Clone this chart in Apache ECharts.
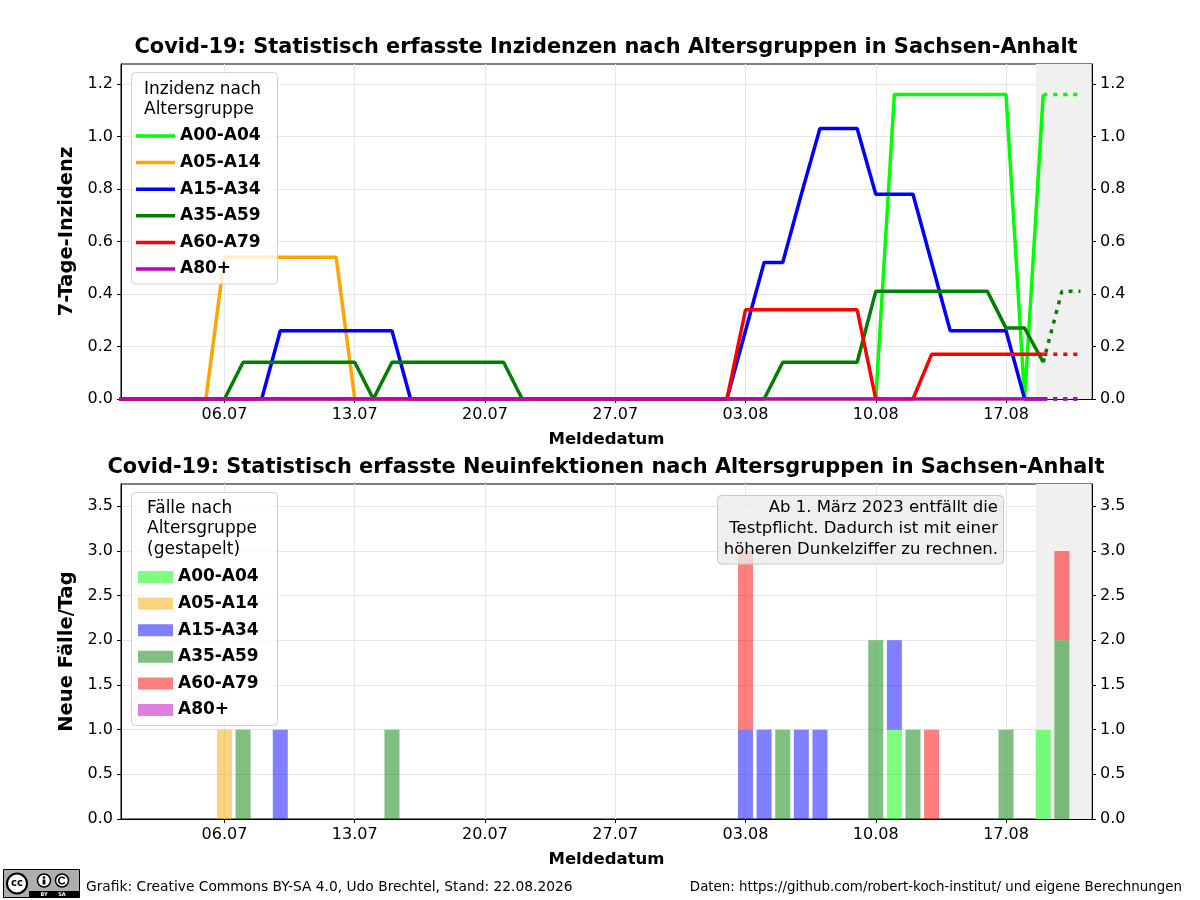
<!DOCTYPE html>
<html>
<head>
<meta charset="utf-8">
<script src="https://cdn.jsdelivr.net/npm/echarts@6/dist/echarts.min.js"></script>
<style>
html,body{margin:0;padding:0;background:#fff}
#main{width:1200px;height:900px}
</style>
</head>
<body>
<div id="main"></div>
<script>
// Tage (Meldedatum), Index 0 = 30.06
var days = ['30.06',
  '01.07','02.07','03.07','04.07','05.07','06.07','07.07','08.07','09.07','10.07',
  '11.07','12.07','13.07','14.07','15.07','16.07','17.07','18.07','19.07','20.07',
  '21.07','22.07','23.07','24.07','25.07','26.07','27.07','28.07','29.07','30.07','31.07',
  '01.08','02.08','03.08','04.08','05.08','06.08','07.08','08.08','09.08','10.08',
  '11.08','12.08','13.08','14.08','15.08','16.08','17.08','18.08','19.08','20.08','21.08'];
var tickDays = ['06.07','13.07','20.07','27.07','03.08','10.08','17.08'];
var groups = ['A00-A04','A05-A14','A15-A34','A35-A59','A60-A79','A80+'];

// 7-Tage-Inzidenz 30.06 .. 19.08
var inzA00 = [0,0,0,0,0,0,0, 0,0,0,0,0,0,0, 0,0,0,0,0,0,0, 0,0,0,0,0,0,0, 0,0,0,0,0,0,0, 0,0,0,0,0,0,0,
  1.16,1.16,1.16,1.16,1.16,1.16,1.16, 0,1.16];
var inzA05 = [0,0,0,0,0,0,0.54, 0.54,0.54,0.54,0.54,0.54,0.54,0, 0,0,0,0,0,0,0, 0,0,0,0,0,0,0, 0,0,0,0,0,0,0, 0,0,0,0,0,0,0,
  0,0,0,0,0,0,0, 0,0];
var inzA15 = [0,0,0,0,0,0,0, 0,0,0.26,0.26,0.26,0.26,0.26, 0.26,0.26,0,0,0,0,0, 0,0,0,0,0,0,0, 0,0,0,0,0,0,0.26,
  0.52,0.52,0.78,1.03,1.03,1.03,0.78, 0.78,0.78,0.52,0.26,0.26,0.26,0.26, 0,0];
var inzA35 = [0,0,0,0,0,0,0, 0.14,0.14,0.14,0.14,0.14,0.14,0.14, 0,0.14,0.14,0.14,0.14,0.14,0.14, 0.14,0,0,0,0,0,0, 0,0,0,0,0,0,0,
  0,0.14,0.14,0.14,0.14,0.14,0.41, 0.41,0.41,0.41,0.41,0.41,0.41,0.27, 0.27,0.14];
var inzA60 = [0,0,0,0,0,0,0, 0,0,0,0,0,0,0, 0,0,0,0,0,0,0, 0,0,0,0,0,0,0, 0,0,0,0,0,0,0.34,
  0.34,0.34,0.34,0.34,0.34,0.34,0, 0,0,0.17,0.17,0.17,0.17,0.17, 0.17,0.17];
var inzA80 = [0,0,0,0,0,0,0, 0,0,0,0,0,0,0, 0,0,0,0,0,0,0, 0,0,0,0,0,0,0, 0,0,0,0,0,0,0, 0,0,0,0,0,0,0,
  0,0,0,0,0,0,0, 0,0];

// Prognose (gepunktet) 19.08 .. 21.08
var progDays = ['19.08','20.08','21.08'];
var progA00 = [1.16,1.16,1.16];
var progA05 = [0,0,0];
var progA15 = [0,0,0];
var progA35 = [0.14,0.41,0.41];
var progA60 = [0.17,0.17,0.17];
var progA80 = [0,0,0];

// Neue Faelle pro Tag
var barDays = ['06.07','07.07','09.07','15.07','03.08','04.08','05.08','06.08','07.08','10.08','11.08','12.08','13.08','17.08','19.08','20.08'];
var fA00 = [0,0,0,0,0,0,0,0,0,0,1,0,0,0,1,0];
var fA05 = [1,0,0,0,0,0,0,0,0,0,0,0,0,0,0,0];
var fA15 = [0,0,1,0,1,1,0,1,1,0,1,0,0,0,0,0];
var fA35 = [0,1,0,1,0,0,1,0,0,2,0,1,0,1,0,2];
var fA60 = [0,0,0,0,2,0,0,0,0,0,0,0,1,0,0,1];
var fA80 = [0,0,0,0,0,0,0,0,0,0,0,0,0,0,0,0];

var inzTicks = [0,0.2,0.4,0.6,0.8,1.0,1.2];
var faelleTicks = [0,0.5,1.0,1.5,2.0,2.5,3.0,3.5];

var inz = [inzA00,inzA05,inzA15,inzA35,inzA60,inzA80];
var prog = [progA00,progA05,progA15,progA35,progA60,progA80];
var faelle = [fA00,fA05,fA15,fA35,fA60,fA80];

var lineColors = ['#00ff00','#ffa500','#0000ff','#008000','#ff0000','#bf00bf'];
var barColors = ['rgba(0,255,0,0.5)','rgba(255,165,0,0.5)','rgba(0,0,255,0.5)','rgba(0,128,0,0.5)','rgba(255,0,0,0.5)','rgba(191,0,191,0.5)'];

var FONT = 'DejaVu Sans';
var X_MIN = 0.44, X_MAX = 52.62, SHADE_FROM = 49.6;
var tickIdx = tickDays.map(function(d){ return days.indexOf(d); });

var myChart = echarts.init(document.getElementById('main'));

function xAx(gi) {
    return {
        type: 'value', gridIndex: gi, min: X_MIN, max: X_MAX,
        name: 'Meldedatum', nameLocation: 'middle', nameGap: 32,
        nameTextStyle: {fontFamily: FONT, fontWeight: 'bold', fontSize: 16.5, color: '#000'},
        axisLine: {show: true, onZero: false, lineStyle: {color: '#000'}},
        axisTick: {show: true, length: 4, customValues: tickIdx, lineStyle: {color: '#000'}},
        axisLabel: {customValues: tickIdx, margin: 8, fontFamily: FONT, fontSize: 16, color: '#000',
            formatter: function(v){ return days[Math.round(v)]; }},
        splitLine: {show: true, lineStyle: {color: '#e6e6e6'}}
    };
}
function yAx(gi, pos, max, ticks, name) {
    return {
        type: 'value', gridIndex: gi, position: pos, min: 0, max: max,
        name: name, nameLocation: 'middle', nameGap: 40,
        nameTextStyle: {fontFamily: FONT, fontWeight: 'bold', fontSize: 19.5, color: '#000'},
        axisLine: {show: true, lineStyle: {color: '#000'}},
        axisTick: {show: true, length: 4, customValues: ticks, lineStyle: {color: '#000'}},
        axisLabel: {customValues: ticks, margin: 8, fontFamily: FONT, fontSize: 16, color: '#000',
            formatter: function(v){ return v.toFixed(1); }},
        splitLine: {show: pos === 'left', lineStyle: {color: '#e6e6e6'}}
    };
}

var series = [];
groups.forEach(function(g, k) {
    var s = {
        name: g, type: 'line', xAxisIndex: 0, yAxisIndex: 0,
        data: inz[k].map(function(v, i){ return [i, v]; }),
        showSymbol: false, symbol: 'none', color: lineColors[k],
        lineStyle: {width: 3.5, color: lineColors[k]}, z: 3
    };
    if (k === 0) {
        s.markArea = {silent: true, itemStyle: {color: '#f0f0f0'},
            data: [[{xAxis: SHADE_FROM}, {xAxis: X_MAX - 0.03}]]};
    }
    series.push(s);
});
groups.forEach(function(g, k) {
    series.push({
        name: g + ' Prognose', type: 'line', xAxisIndex: 0, yAxisIndex: 0,
        data: prog[k].map(function(v, j){ return [days.indexOf(progDays[j]), v]; }),
        showSymbol: false, symbol: 'none', color: lineColors[k],
        lineStyle: {width: 3.5, color: lineColors[k], type: [4, 6]}, z: 3
    });
});
// Balken: Spalte 0 = Faelle, Spalte 1 = Tag, damit auf den Faellen gestapelt wird
groups.forEach(function(g, k) {
    var s = {
        name: 'Fälle ' + g, type: 'bar', stack: 'faelle', xAxisIndex: 1, yAxisIndex: 2,
        encode: {x: 1, y: 0},
        data: barDays.map(function(d, i){ return [faelle[k][i], days.indexOf(d)]; }),
        barWidth: 15, color: barColors[k], itemStyle: {color: barColors[k]}
    };
    if (k === 0) {
        s.markArea = {silent: true, itemStyle: {color: '#f0f0f0'},
            data: [[{xAxis: SHADE_FROM}, {xAxis: X_MAX - 0.03}]]};
    }
    series.push(s);
});

option = {
    animation: false,
    backgroundColor: '#fff',
    grid: [
        {left: 121, right: 108, top: 64, height: 335, show: true, borderColor: '#000', borderWidth: 1, backgroundColor: 'transparent'},
        {left: 121, right: 108, top: 484, height: 335, show: true, borderColor: '#000', borderWidth: 1, backgroundColor: 'transparent'}
    ],
    xAxis: [xAx(0), xAx(1)],
    yAxis: [
        yAx(0, 'left', 1.276, inzTicks, '7-Tage-Inzidenz'),
        yAx(0, 'right', 1.276, inzTicks, ''),
        yAx(1, 'left', 3.75, faelleTicks, 'Neue Fälle/Tag'),
        yAx(1, 'right', 3.75, faelleTicks, '')
    ],
    legend: [
        {
            data: groups, orient: 'vertical', left: 136, top: 126, padding: 0,
            itemGap: 6.6, itemWidth: 39, itemHeight: 3.5, itemTextGap: 12, icon: 'rect',
            selectedMode: false, z: 60,
            textStyle: {fontFamily: FONT, fontSize: 17, fontWeight: 'bold', color: '#000', lineHeight: 20}
        },
        {
            data: groups.map(function(g){ return 'Fälle ' + g; }),
            formatter: function(n){ return n.replace('Fälle ', ''); },
            orient: 'vertical', left: 138, top: 567, padding: 0,
            itemGap: 6.6, itemWidth: 35, itemHeight: 12, itemTextGap: 14, icon: 'rect',
            selectedMode: false, z: 60,
            textStyle: {fontFamily: FONT, fontSize: 17, fontWeight: 'bold', color: '#000', lineHeight: 20}
        }
    ],
    graphic: [
        // Titel
        {type: 'text', z: 70, style: {text: 'Covid-19: Statistisch erfasste Inzidenzen nach Altersgruppen in Sachsen-Anhalt',
            x: 606, y: 48, align: 'center', verticalAlign: 'middle',
            fontFamily: FONT, fontSize: 20.9, fontWeight: 'bold', fill: '#000'}},
        {type: 'text', z: 70, style: {text: 'Covid-19: Statistisch erfasste Neuinfektionen nach Altersgruppen in Sachsen-Anhalt',
            x: 606, y: 468, align: 'center', verticalAlign: 'middle',
            fontFamily: FONT, fontSize: 20.9, fontWeight: 'bold', fill: '#000'}},
        // Legendenrahmen
        {type: 'rect', z: 50, shape: {x: 131.5, y: 72.5, width: 146, height: 211.5, r: 4},
            style: {fill: 'rgba(255,255,255,0.8)', stroke: '#d0d0d0', lineWidth: 1}},
        {type: 'text', z: 60, style: {text: 'Inzidenz nach\nAltersgruppe', x: 144, y: 100, verticalAlign: 'middle',
            lineHeight: 20, fontFamily: FONT, fontSize: 17, fill: '#000'}},
        {type: 'rect', z: 50, shape: {x: 131.5, y: 492.5, width: 146, height: 233, r: 4},
            style: {fill: 'rgba(255,255,255,0.8)', stroke: '#d0d0d0', lineWidth: 1}},
        {type: 'text', z: 60, style: {text: 'Fälle nach\nAltersgruppe\n(gestapelt)', x: 147, y: 529, verticalAlign: 'middle',
            lineHeight: 20.5, fontFamily: FONT, fontSize: 17, fill: '#000'}},
        // Hinweis
        {type: 'rect', z: 50, shape: {x: 717.5, y: 495.5, width: 286, height: 68.5, r: 4},
            style: {fill: 'rgba(235,235,235,0.8)', stroke: '#c8c8c8', lineWidth: 1}},
        {type: 'text', z: 60, style: {text: 'Ab 1. März 2023 entfällt die\nTestpflicht. Dadurch ist mit einer\nhöheren Dunkelziffer zu rechnen.',
            x: 998, y: 529, align: 'right', verticalAlign: 'middle', lineHeight: 21,
            fontFamily: FONT, fontSize: 16.5, fill: '#000'}},
        // Fusszeile
        {type: 'text', z: 60, style: {text: 'Grafik: Creative Commons BY-SA 4.0, Udo Brechtel, Stand: 22.08.2026',
            x: 86, y: 887.5, verticalAlign: 'middle', fontFamily: FONT, fontSize: 13.8, fill: '#000'}},
        {type: 'text', z: 60, style: {text: 'Daten: https://github.com/robert-koch-institut/ und eigene Berechnungen',
            x: 1182, y: 887.5, align: 'right', verticalAlign: 'middle', fontFamily: FONT, fontSize: 13.4, fill: '#000'}},
        // CC BY-SA Logo
        {type: 'rect', z: 60, shape: {x: 3.5, y: 869.5, width: 76, height: 28}, style: {fill: '#abb1aa', stroke: '#000', lineWidth: 1}},
        {type: 'rect', z: 61, shape: {x: 29, y: 891, width: 50, height: 6.5}, style: {fill: '#000'}},
        {type: 'text', z: 62, style: {text: 'BY', x: 44, y: 894.5, align: 'center', verticalAlign: 'middle', fontFamily: FONT, fontSize: 5, fontWeight: 'bold', fill: '#fff'}},
        {type: 'text', z: 62, style: {text: 'SA', x: 62, y: 894.5, align: 'center', verticalAlign: 'middle', fontFamily: FONT, fontSize: 5, fontWeight: 'bold', fill: '#fff'}},
        {type: 'circle', z: 62, shape: {cx: 17, cy: 883.5, r: 10}, style: {fill: '#fff', stroke: '#000', lineWidth: 2}},
        {type: 'text', z: 63, style: {text: 'cc', x: 17, y: 883.5, align: 'center', verticalAlign: 'middle', fontFamily: FONT, fontSize: 10, fontWeight: 'bold', fill: '#000'}},
        {type: 'circle', z: 62, shape: {cx: 44, cy: 880.5, r: 6.5}, style: {fill: '#fff', stroke: '#000', lineWidth: 1.5}},
        {type: 'circle', z: 63, shape: {cx: 44, cy: 877.5, r: 1.3}, style: {fill: '#000'}},
        {type: 'rect', z: 63, shape: {x: 42.6, y: 879.5, width: 2.8, height: 5}, style: {fill: '#000'}},
        {type: 'circle', z: 62, shape: {cx: 62, cy: 880.5, r: 6.5}, style: {fill: '#fff', stroke: '#000', lineWidth: 1.5}},
        {type: 'arc', z: 63, shape: {cx: 62, cy: 880.5, r: 3.3, startAngle: 0.6, endAngle: 5.6}, style: {fill: 'none', stroke: '#000', lineWidth: 1.6}}
    ],
    series: series
};

myChart.setOption(option);
</script>
</body>
</html>
